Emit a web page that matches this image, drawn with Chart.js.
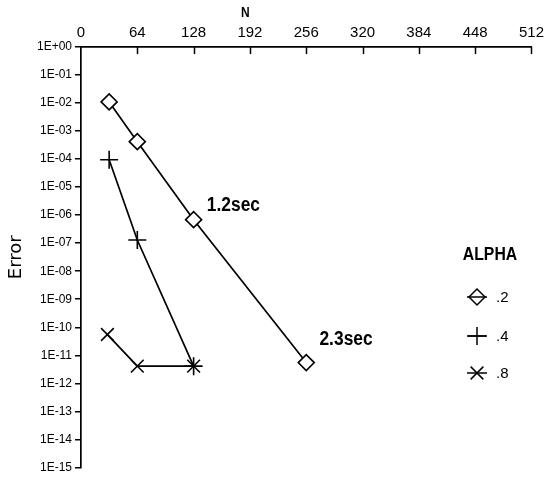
<!DOCTYPE html>
<html>
<head>
<meta charset="utf-8">
<script src="https://cdn.jsdelivr.net/npm/chart.js@4.4.1/dist/chart.umd.min.js"></script>
<style>
  html, body { margin: 0; padding: 0; background: #fff; }
  #wrap { width: 549px; height: 478px; }
</style>
</head>
<body>
<div id="wrap"><canvas id="chart"></canvas></div>
<script>
const sans = "'Liberation Sans', Arial, sans-serif";
const ink = '#000';

// axes
const nTicks = [0, 64, 128, 192, 256, 320, 384, 448, 512];
const errorTicks = [1e0, 1e-1, 1e-2, 1e-3, 1e-4, 1e-5, 1e-6, 1e-7, 1e-8, 1e-9, 1e-10, 1e-11, 1e-12, 1e-13, 1e-14, 1e-15];
const errorTickLabels = ['1E+00', '1E-01', '1E-02', '1E-03', '1E-04', '1E-05', '1E-06', '1E-07',
  '1E-08', '1E-09', '1E-10', '1E-11', '1E-12', '1E-13', '1E-14', '1E-15'];

// series, one per alpha
const alphaLabels = ['.2', '.4', '.8'];
const alphaMarkers = ['rectRot', 'cross', 'crossRot'];
const nAlpha2 = [32, 64, 128, 256];
const errAlpha2 = [1.1e-2, 4.2e-4, 6.9e-7, 5.5e-12];
const nAlpha4 = [32, 64, 128];
const errAlpha4 = [9.5e-5, 1.3e-7, 4.1e-12];
const nAlpha8 = [30, 64, 128];
const errAlpha8 = [5.5e-11, 4.1e-12, 4.1e-12];

// timing notes
const noteTexts = ['1.2sec', '2.3sec'];
const noteN = [143, 271];
const noteErr = [2.3e-6, 3.6e-11];

const seriesN = [nAlpha2, nAlpha4, nAlpha8];
const seriesErr = [errAlpha2, errAlpha4, errAlpha8];
const markerRadius = [8, 9, 9];

const datasets = alphaLabels.map((label, i) => ({
  label,
  data: seriesN[i].map((n, j) => ({ x: n, y: seriesErr[i][j] })),
  borderColor: ink,
  borderWidth: 1.7,
  tension: 0,
  fill: false,
  pointStyle: alphaMarkers[i],
  pointRadius: markerRadius[i],
  pointHoverRadius: markerRadius[i],
  pointBorderColor: ink,
  pointBorderWidth: 1.6,
  pointBackgroundColor: '#fff'
}));

// squeezed text, the plotter lettering is narrow
function drawText(ctx, text, x, y, font, sx, align) {
  ctx.save();
  ctx.font = font;
  ctx.textAlign = align;
  ctx.textBaseline = 'middle';
  ctx.translate(x, y);
  ctx.scale(sx, 1);
  ctx.fillText(text, 0, 0);
  ctx.restore();
}

const decorations = {
  id: 'decorations',
  afterDraw(chart) {
    const { ctx, chartArea, scales: { x, y } } = chart;
    ctx.save();
    ctx.strokeStyle = ink;
    ctx.fillStyle = ink;
    ctx.lineWidth = 1.5;

    // inward tick marks on the top axis
    nTicks.slice(1).forEach((v) => {
      const px = Math.round(x.getPixelForValue(v)) + 0.5;
      ctx.beginPath();
      ctx.moveTo(px, chartArea.top);
      ctx.lineTo(px, chartArea.top + 7);
      ctx.stroke();
    });

    // axis name
    drawText(ctx, 'N', chartArea.left + (chartArea.right - chartArea.left) * 0.365, 13,
      `bold 15px ${sans}`, 0.8, 'center');

    // timing notes
    noteTexts.forEach((t, i) => {
      drawText(ctx, t, x.getPixelForValue(noteN[i]), y.getPixelForValue(noteErr[i]),
        `bold 20px ${sans}`, 0.87, 'left');
    });

    // legend
    const lx = 477;
    drawText(ctx, 'ALPHA', 490, 255, `bold 19px ${sans}`, 0.83, 'center');
    const rows = [297, 336, 373];
    alphaLabels.forEach((label, i) => {
      const ly = rows[i];
      ctx.beginPath();
      ctx.moveTo(lx - 10, ly);
      ctx.lineTo(lx + 10, ly);
      ctx.stroke();
      ctx.fillStyle = 'rgba(0,0,0,0)';
      Chart.helpers.drawPoint(ctx, {
        pointStyle: alphaMarkers[i],
        radius: markerRadius[i],
        rotation: 0,
        borderWidth: 1.6
      }, lx, ly);
      ctx.fillStyle = ink;
      drawText(ctx, label, 496, ly + 1, `15px ${sans}`, 1, 'left');
    });
    ctx.restore();
  }
};

new Chart(document.getElementById('chart'), {
  type: 'line',
  data: { datasets },
  options: {
    responsive: true,
    maintainAspectRatio: false,
    animation: false,
    events: [],
    layout: { padding: { left: 0, top: 0, right: 12, bottom: 10 } },
    plugins: {
      legend: { display: false },
      tooltip: { enabled: false }
    },
    scales: {
      x: {
        type: 'linear',
        position: 'top',
        min: 0,
        max: 512,
        afterBuildTicks: (scale) => { scale.ticks = nTicks.map((v) => ({ value: v })); },
        afterFit: (scale) => { scale.height = 47; },
        grid: { display: false, drawTicks: false },
        border: { display: true, color: ink, width: 1.7 },
        ticks: {
          color: ink,
          font: { family: sans, size: 15 },
          padding: 5,
          maxRotation: 0,
          autoSkip: false
        }
      },
      y: {
        type: 'logarithmic',
        min: 1e-15,
        max: 1,
        afterBuildTicks: (scale) => {
          scale.ticks = errorTicks.slice().reverse().map((v) => ({ value: v }));
        },
        afterFit: (scale) => { scale.width = 81; },
        grid: {
          display: true,
          drawOnChartArea: false,
          drawTicks: true,
          tickLength: 6,
          color: ink,
          lineWidth: 1.5
        },
        border: { display: true, color: ink, width: 1.7 },
        ticks: {
          color: ink,
          font: { family: sans, size: 12 },
          padding: 3,
          autoSkip: false,
          callback: (value) => errorTickLabels[errorTicks.indexOf(value)]
        },
        title: {
          display: true,
          text: 'Error',
          color: ink,
          font: { family: 'DejaVu Sans', size: 18 },
          padding: { top: 6, bottom: 0 }
        }
      }
    }
  },
  plugins: [decorations]
});
</script>
</body>
</html>
